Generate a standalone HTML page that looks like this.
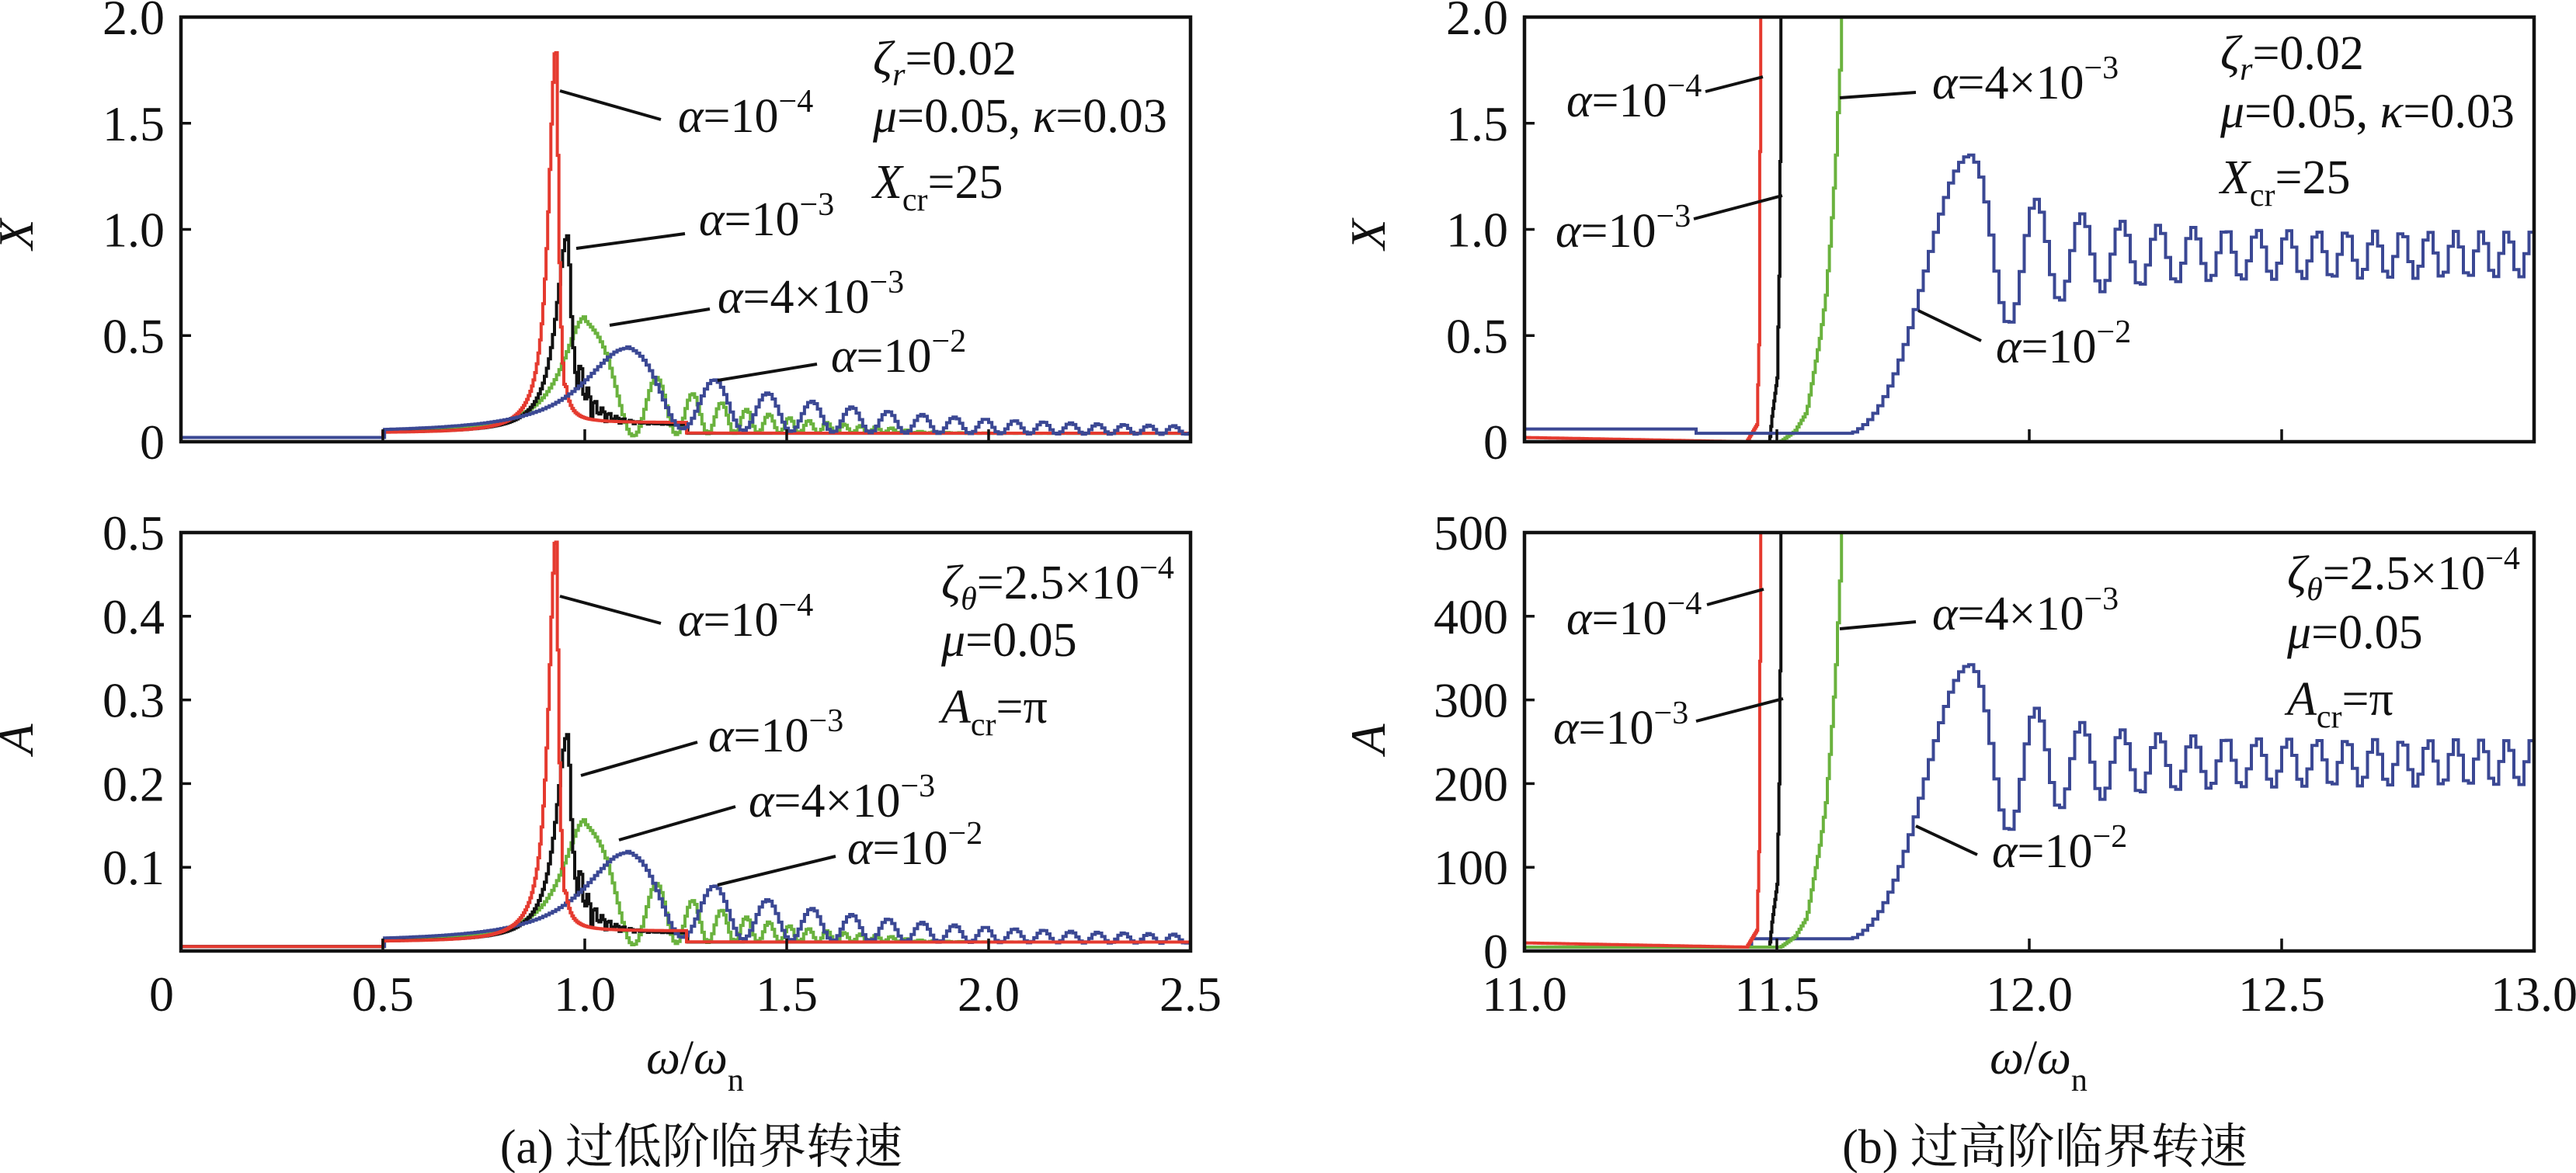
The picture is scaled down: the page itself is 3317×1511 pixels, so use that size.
<!DOCTYPE html>
<html><head><meta charset="utf-8"><style>
html,body{margin:0;padding:0;background:#fff;}
svg{display:block;}
text{font-family:"Liberation Serif","Times New Roman","Noto Serif CJK SC",serif;fill:#111;}
</style></head><body>
<svg id="s" width="3317" height="1511" viewBox="0 0 3317 1511" xmlns="http://www.w3.org/2000/svg" font-family="Liberation Serif, Noto Serif CJK SC, serif">
<defs>
<clipPath id="c1"><rect x="233" y="22" width="1300" height="547"/></clipPath>
<clipPath id="c2"><rect x="233" y="686" width="1300" height="539"/></clipPath>
<clipPath id="c3"><rect x="1963" y="22" width="1300" height="547"/></clipPath>
<clipPath id="c4"><rect x="1963" y="686" width="1300" height="539"/></clipPath>
</defs>
<g id="series"></g>
<g fill="none" stroke="#111" stroke-width="4.5">
<rect x="233" y="22" width="1300" height="547"/>
<rect x="233" y="686" width="1300" height="539"/>
<rect x="1963" y="22" width="1300" height="547"/>
<rect x="1963" y="686" width="1300" height="539"/>
</g>
<g id="ticks" stroke="#111" stroke-width="3.5"></g>
<g font-size="64" text-anchor="end" id="ylab"></g>
<g font-size="64" text-anchor="middle" id="xlab"></g>
<g stroke="#111" stroke-width="4">
<line x1="721" y1="117" x2="851" y2="154"/>
<line x1="742" y1="320" x2="882" y2="301"/>
<line x1="785" y1="419" x2="914" y2="398"/>
<line x1="924" y1="490" x2="1052" y2="469"/>
<line x1="721" y1="768" x2="851" y2="803"/>
<line x1="748" y1="999" x2="898" y2="956"/>
<line x1="797" y1="1082" x2="947" y2="1039"/>
<line x1="924" y1="1140" x2="1076" y2="1103"/>
<line x1="2196" y1="118" x2="2270" y2="99"/>
<line x1="2181" y1="282" x2="2295" y2="252"/>
<line x1="2369" y1="126" x2="2467" y2="119"/>
<line x1="2470" y1="400" x2="2551" y2="439"/>
<line x1="2198" y1="779" x2="2271" y2="759"/>
<line x1="2184" y1="929" x2="2296" y2="900"/>
<line x1="2369" y1="810" x2="2467" y2="801"/>
<line x1="2467" y1="1064" x2="2546" y2="1101"/>
</g>
<g font-size="62">
<text x="873" y="170"><tspan font-style="italic">α</tspan>=10<tspan dy="-26" font-size="42">−4</tspan></text>
<text x="900" y="303"><tspan font-style="italic">α</tspan>=10<tspan dy="-26" font-size="42">−3</tspan></text>
<text x="924" y="403"><tspan font-style="italic">α</tspan>=4×10<tspan dy="-26" font-size="42">−3</tspan></text>
<text x="1070" y="479"><tspan font-style="italic">α</tspan>=10<tspan dy="-26" font-size="42">−2</tspan></text>
<text x="1124" y="96"><tspan font-style="italic">ζ</tspan><tspan font-style="italic" font-size="42" dy="14">r</tspan><tspan dy="-14">=0.02</tspan></text>
<text x="1124" y="170"><tspan font-style="italic">μ</tspan>=0.05, <tspan font-style="italic">κ</tspan>=0.03</text>
<text x="1124" y="255"><tspan font-style="italic">X</tspan><tspan font-size="42" dy="16">cr</tspan><tspan dy="-16">=25</tspan></text>

<text x="873" y="819"><tspan font-style="italic">α</tspan>=10<tspan dy="-26" font-size="42">−4</tspan></text>
<text x="912" y="968"><tspan font-style="italic">α</tspan>=10<tspan dy="-26" font-size="42">−3</tspan></text>
<text x="964" y="1052"><tspan font-style="italic">α</tspan>=4×10<tspan dy="-26" font-size="42">−3</tspan></text>
<text x="1091" y="1113"><tspan font-style="italic">α</tspan>=10<tspan dy="-26" font-size="42">−2</tspan></text>
<text x="1212" y="771"><tspan font-style="italic">ζ</tspan><tspan font-style="italic" font-size="42" dy="14">θ</tspan><tspan dy="-14">=2.5×10</tspan><tspan dy="-26" font-size="42">−4</tspan></text>
<text x="1212" y="845"><tspan font-style="italic">μ</tspan>=0.05</text>
<text x="1212" y="931"><tspan font-style="italic">A</tspan><tspan font-size="42" dy="16">cr</tspan><tspan dy="-16">=π</tspan></text>

<text x="2017" y="150"><tspan font-style="italic">α</tspan>=10<tspan dy="-26" font-size="42">−4</tspan></text>
<text x="2003" y="318"><tspan font-style="italic">α</tspan>=10<tspan dy="-26" font-size="42">−3</tspan></text>
<text x="2488" y="127"><tspan font-style="italic">α</tspan>=4×10<tspan dy="-26" font-size="42">−3</tspan></text>
<text x="2570" y="467"><tspan font-style="italic">α</tspan>=10<tspan dy="-26" font-size="42">−2</tspan></text>
<text x="2859" y="89"><tspan font-style="italic">ζ</tspan><tspan font-style="italic" font-size="42" dy="14">r</tspan><tspan dy="-14">=0.02</tspan></text>
<text x="2859" y="164"><tspan font-style="italic">μ</tspan>=0.05, <tspan font-style="italic">κ</tspan>=0.03</text>
<text x="2859" y="249"><tspan font-style="italic">X</tspan><tspan font-size="42" dy="16">cr</tspan><tspan dy="-16">=25</tspan></text>

<text x="2017" y="817"><tspan font-style="italic">α</tspan>=10<tspan dy="-26" font-size="42">−4</tspan></text>
<text x="2000" y="958"><tspan font-style="italic">α</tspan>=10<tspan dy="-26" font-size="42">−3</tspan></text>
<text x="2488" y="811"><tspan font-style="italic">α</tspan>=4×10<tspan dy="-26" font-size="42">−3</tspan></text>
<text x="2565" y="1117"><tspan font-style="italic">α</tspan>=10<tspan dy="-26" font-size="42">−2</tspan></text>
<text x="2945" y="759"><tspan font-style="italic">ζ</tspan><tspan font-style="italic" font-size="42" dy="14">θ</tspan><tspan dy="-14">=2.5×10</tspan><tspan dy="-26" font-size="42">−4</tspan></text>
<text x="2945" y="835"><tspan font-style="italic">μ</tspan>=0.05</text>
<text x="2945" y="921"><tspan font-style="italic">A</tspan><tspan font-size="42" dy="16">cr</tspan><tspan dy="-16">=π</tspan></text>
</g>
<g font-size="64" font-style="italic" text-anchor="middle">
<text transform="translate(42,302) rotate(-90)">X</text>
<text transform="translate(42,952) rotate(-90)">A</text>
<text transform="translate(1783,302) rotate(-90)">X</text>
<text transform="translate(1783,952) rotate(-90)">A</text>
</g>
<g font-size="62" text-anchor="middle">
<text x="895" y="1383"><tspan font-style="italic">ω</tspan>/<tspan font-style="italic">ω</tspan><tspan font-size="42" dy="22">n</tspan></text>
<text x="2625" y="1383"><tspan font-style="italic">ω</tspan>/<tspan font-style="italic">ω</tspan><tspan font-size="42" dy="22">n</tspan></text>
<text x="903" y="1498" font-size="62">(a) 过低阶临界转速</text>
<text x="2633" y="1498" font-size="62">(b) 过高阶临界转速</text>
</g>
</svg>
<script>
var NS="http://www.w3.org/2000/svg";
function el(p,t,a,txt){var e=document.createElementNS(NS,t);for(var k in a)e.setAttribute(k,a[k]);if(txt!=null)e.textContent=txt;p.appendChild(e);return e;}
var tk=document.getElementById('ticks'),yl=document.getElementById('ylab'),xl=document.getElementById('xlab');
function yt(x0,y0,y1,labels){var n=labels.length-1;for(var i=0;i<=n;i++){var y=y1-(y1-y0)*i/n;if(i>0&&i<n)el(tk,'line',{x1:x0,y1:y,x2:x0+13,y2:y});if(labels[i]!==null)el(yl,'text',{x:x0-21,y:y+22},labels[i]);}}
yt(233,22,569,['0','0.5','1.0','1.5','2.0']);
yt(233,686,1225,[null,'0.1','0.2','0.3','0.4','0.5']);
yt(1963,22,569,['0','0.5','1.0','1.5','2.0']);
yt(1963,686,1225,['0','100','200','300','400','500']);
function xt(x0,step,ys,labs,off0){for(var i=0;i<labs.length;i++){var x=x0+step*i;if(i>0&&i<labs.length-1)ys.forEach(function(y){el(tk,'line',{x1:x,y1:y,x2:x,y2:y-16});});el(xl,'text',{x:x+(i==0?off0:0),y:1302},labs[i]);}}
xt(233,260,[569,1225],['0','0.5','1.0','1.5','2.0','2.5'],-25);
xt(1963,325,[569,1225],['11.0','11.5','12.0','12.5','13.0'],0);
function lor(w,c,h,a,b){var s=w<c?a:b;return h/(1+Math.pow((w-c)/s,2));}
function red(w){if(w<0.5)return 0.02;var v=0.04+lor(w,0.927,1.82,0.022,0.008);if(w>0.95&&w<1.25)v+=0.05;return v;}
function blk(w){if(w<0.5)return 0.02;var v=0.04+lor(w,0.955,0.93,0.035,0.012);if(w>0.98&&w<1.2)v+=0.17*Math.exp(-(w-0.99)/0.05)*Math.abs(Math.sin(2*Math.PI*(w-0.98)/0.035));if(w>0.97&&w<1.25)v+=0.04;return w>1.25?0.04:v;}
function grn(w){if(w<0.5)return 0.02;if(w<=1.0)return 0.04+lor(w,1.0,0.55,0.07,0.03);var E=0.55*Math.exp(-(w-1.0)/0.25),n=Math.pow((w-1.0)/0.177,1.71);return 0.02+0.02*Math.min(1,(w-1.0)*3)+E*(0.5+0.5*Math.cos(2*Math.PI*n))*(w>1.75?Math.exp(-(w-1.75)/0.1):1);}
function blu(w){if(w<0.5)return 0.02;if(w<=1.1)return 0.04+lor(w,1.1,0.40,0.13,0.07);var E=0.39*Math.exp(-(w-1.1)/0.42)+0.03,n=Math.pow((w-1.1)/0.22,1.49);return 0.03+E*(0.55+0.45*Math.cos(2*Math.PI*n));}
function interp(w,pts){if(w<=pts[0][0])return pts[0][1];for(var i=1;i<pts.length;i++)if(w<=pts[i][0]){var a=pts[i-1],b=pts[i];return a[1]+(b[1]-a[1])*(w-a[0])/(b[0]-a[0]);}return pts[pts.length-1][1];}
function redR(w){return interp(w,[[11,0.02],[11.44,0.0],[11.46,0.08],[11.465,0.55],[11.468,3],[13,3]]);}
function blkR(w){return interp(w,[[11,0.0],[11.485,0.0],[11.49,0.12],[11.5,0.3],[11.505,0.9],[11.51,3],[13,3]]);}
function grnR(w){return interp(w,[[11,0.0],[11.506,0.0],[11.535,0.05],[11.558,0.14],[11.57,0.3],[11.585,0.5],[11.596,0.69],[11.605,0.95],[11.615,1.3],[11.625,1.8],[11.63,3],[13,3]]);}
function bluR(w){if(w<11.333)return 0.06;if(w<=11.63)return 0.04;if(w<=11.88){return Math.max(0.04,0.0+1.35*Math.exp(-Math.pow((w-11.88)/0.125,2)));}var E=0.11+0.36*Math.exp(-(w-11.88)/0.15),n=Math.pow((w-11.88)/0.13,1.32);return 0.88+E*Math.cos(2*Math.PI*n);}
function bluRb(w){return w<11.44?0:bluR(w);}
function path(f,w0,w1,dw,X0,sx,Y0,sy){var d='',first=true;for(var w=w0;w<=w1+1e-9;w+=dw){var x=X0+(w-w0)*sx,y=Y0-f(w)*sy;y=Math.max(-50,Math.min(2000,y));if(first){d='M'+x.toFixed(1)+' '+y.toFixed(1);first=false;}else d+=' H'+x.toFixed(1)+' V'+y.toFixed(1);}return d;}
var g=document.getElementById('series');
var col={r:'#e53a2f',k:'#111111',g:'#6ab23e',b:'#3b4894'};
function draw(clip,list){var gg=el(g,'g',{'clip-path':'url(#'+clip+')',fill:'none','stroke-width':'4'});list.forEach(function(s){el(gg,'path',{d:s[0],stroke:s[1]});});}
draw('c1',[[path(grn,0,2.5,0.006,233,520,569,273.5),col.g],[path(blk,0,2.5,0.005,233,520,569,273.5),col.k],[path(red,0,2.5,0.004,233,520,569,273.5),col.r],[path(blu,0,2.5,0.008,233,520,569,273.5),col.b]]);
var s2=1078/3.75;
draw('c2',[[path(grn,0,2.5,0.006,233,520,1225,s2),col.g],[path(blk,0,2.5,0.005,233,520,1225,s2),col.k],[path(blu,0,2.5,0.008,233,520,1225,s2),col.b],[path(red,0,2.5,0.004,233,520,1225,s2),col.r]]);
draw('c3',[[path(redR,11,13,0.002,1963,650,569,273.5),col.r],[path(blkR,11,13,0.002,1963,650,569,273.5),col.k],[path(grnR,11,13,0.004,1963,650,569,273.5),col.g],[path(bluR,11,13,0.01,1963,650,569,273.5),col.b]]);
draw('c4',[[path(bluRb,11,13,0.01,1963,650,1220,269.5),col.b],[path(blkR,11,13,0.002,1963,650,1220,269.5),col.k],[path(grnR,11,13,0.004,1963,650,1220,269.5),col.g],[path(redR,11,13,0.002,1963,650,1220,269.5),col.r]]);
</script>
</body></html>
